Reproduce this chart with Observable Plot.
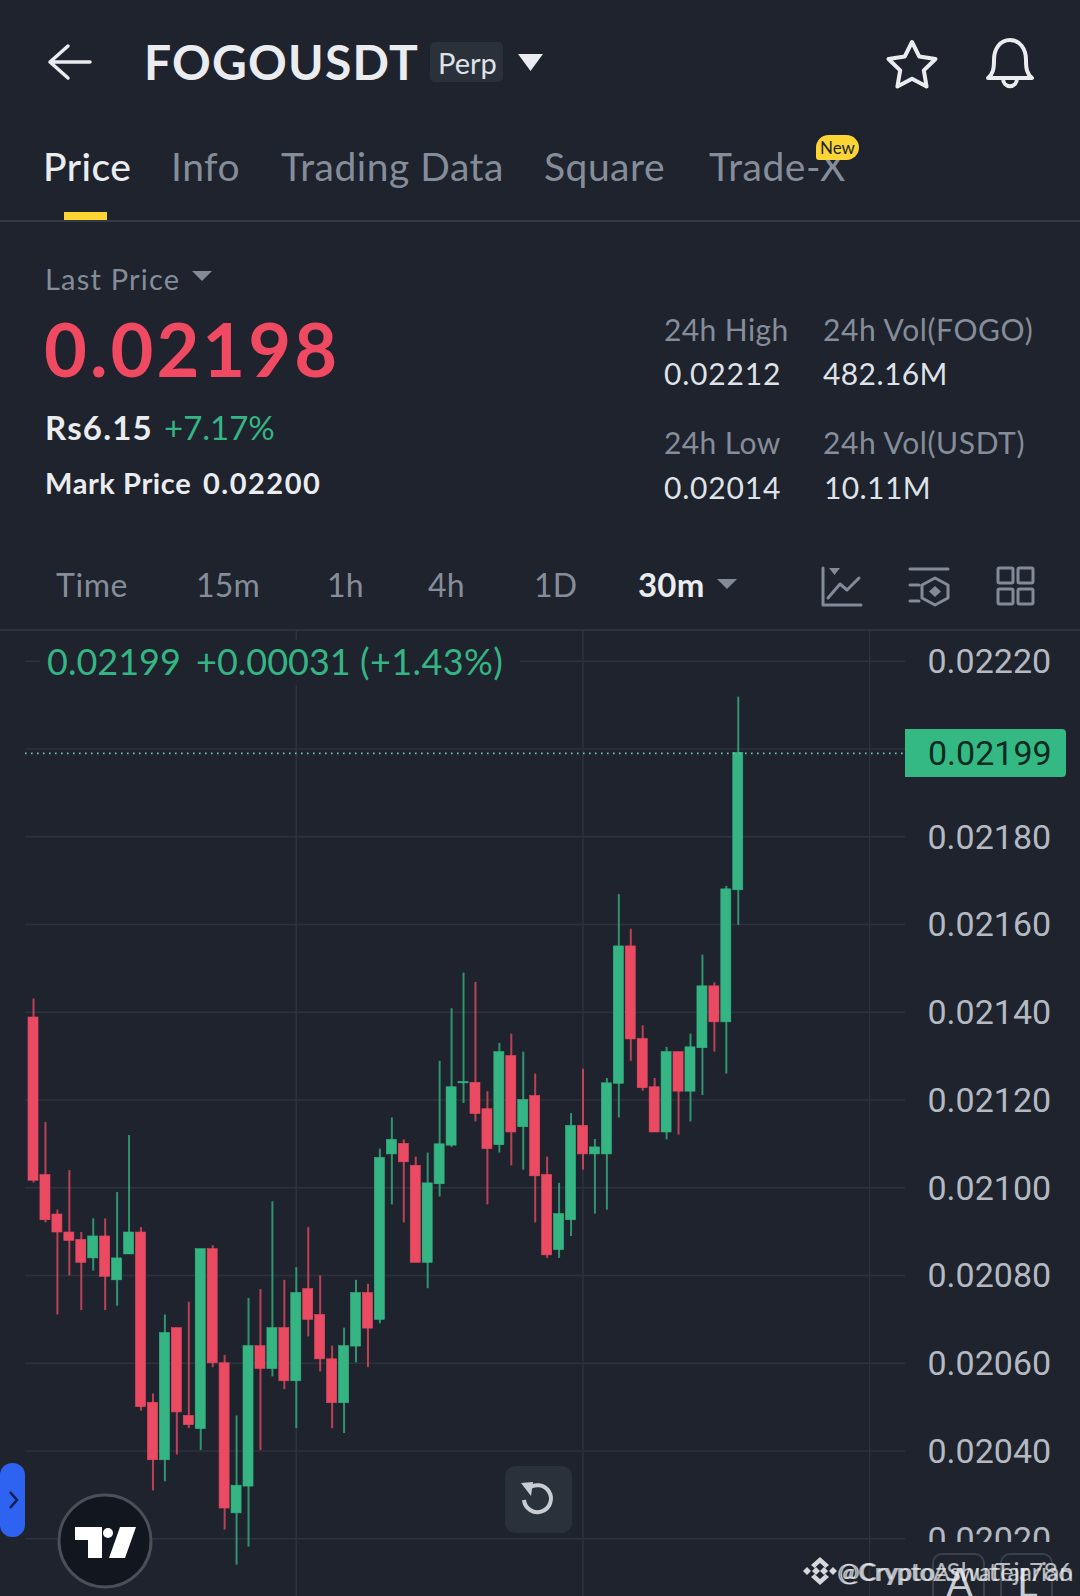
<!DOCTYPE html>
<html><head><meta charset="utf-8">
<script src="https://cdn.jsdelivr.net/npm/d3@7"></script>
<script src="https://cdn.jsdelivr.net/npm/@observablehq/plot@0.6"></script>
<style>
html,body{margin:0;padding:0;background:#1e232d;}
#page{position:relative;width:1080px;height:1596px;overflow:hidden;background:#1e232d;font-family:Lato,"Noto Sans",sans-serif;color:#eaecef;}
.t{position:absolute;white-space:nowrap;line-height:1;transform:translateY(-87%);}
.g{color:#868d9a}.hl{color:#dfe2e7}
.up{color:#34b583}
.tab{font-size:39px;letter-spacing:.5px}
.s{font-size:30px;letter-spacing:.4px}
.tf{font-size:32px;letter-spacing:.2px}
#chart{position:absolute;left:0;top:629px;}
svg.ic{position:absolute;overflow:visible}
.box{position:absolute}
</style></head><body>
<div id="page">
<svg class="ic" style="left:0;top:0" width="1080" height="630" fill="none" stroke="#eaecef" stroke-linecap="round" stroke-linejoin="round">
 <path d="M50 62H90M68 46L50 62L68 78" stroke-width="3.500"/>
 <path d="M912 42l7.3 14.600 16.200 2.400-11.700 11.400 2.800 16.100-14.600-7.700-14.600 7.700 2.800-16.100-11.700-11.400 16.200-2.400z" stroke-width="4"/>
 <path d="M988 78c5-4 6-9 6-18 0-11 6-20 16-20s16 9 16 20c0 9 1 14 6 18z" stroke-width="4"/>
 <path d="M1003 78c0 11 14 11 14 0" stroke-width="4"/>
 <g stroke="#848b98" stroke-width="3">
  <path d="M823 568V605H861M828 598L840 584L847 590L859 578"/>
  <path d="M910 569H948M910 585H919M910 601H919M935 578L948 585V598L935 605L922 598V585Z"/>
  <rect x="998" y="568" width="15" height="15" rx="1.500"/><rect x="1018" y="568" width="15" height="15" rx="1.500"/>
  <rect x="998" y="589" width="15" height="15" rx="1.500"/><rect x="1018" y="589" width="15" height="15" rx="1.500"/>
 </g>
 <g fill="#848b98" stroke="none">
  <path d="M829 568H840L834.500 575Z"/><path d="M935 586L941 591.500L935 597L929 591.500Z"/>
  <path d="M192 271H212L202 281Z"/><path d="M717 579H737L727 589Z"/>
 </g>
 <path d="M518 54H543L530.500 71Z" fill="#eaecef" stroke="none"/>
</svg>
<div class="t" style="left:144px;top:80px;font-size:48px;font-weight:700;letter-spacing:1.200px">FOGOUSDT</div>
<div class="box" style="left:430px;top:42px;width:73px;height:40px;background:#2b313b;border-radius:5px"></div>
<div class="t hl" style="left:438px;top:73px;font-size:29px;">Perp</div>

<div class="t tab" style="left:43px;top:181px;font-weight:500;">Price</div>
<div class="t g tab" style="left:171px;top:181px;">Info</div>
<div class="t g tab" style="left:281px;top:181px;">Trading Data</div>
<div class="t g tab" style="left:544px;top:181px;">Square</div>
<div class="t g tab" style="left:709px;top:181px;">Trade-X</div>
<div class="box" style="left:816px;top:135px;width:43px;height:25px;background:#fcd535;border-radius:13px 13px 13px 3px;color:#1e232d;font-size:17px;line-height:25px;text-align:center;">New</div>
<div class="box" style="left:64px;top:212px;width:43px;height:8px;background:#fcd535"></div>
<div class="box" style="left:0;top:220px;width:1080px;height:1.500px;background:#333945"></div>

<div class="t g" style="left:45px;top:289px;font-size:29px;letter-spacing:1.200px">Last Price</div>
<div class="t" style="left:44px;top:376px;font-size:74px;font-weight:700;color:#ef4a62;letter-spacing:3px">0.02198</div>
<div class="t" style="left:45px;top:440px;font-size:33px;font-weight:700;letter-spacing:1.200px">Rs6.15</div>
<div class="t up" style="left:164px;top:440px;font-size:33px;">+7.17%</div>
<div class="t" style="left:45px;top:493px;font-size:29px;font-weight:700;letter-spacing:.6px">Mark Price</div>
<div class="t" style="left:203px;top:493px;font-size:29px;font-weight:700;letter-spacing:1.500px">0.02200</div>
<div class="t g s" style="left:664px;top:340px;">24h High</div>
<div class="t hl s" style="left:664px;top:384px;letter-spacing:.8px">0.02212</div>
<div class="t g s" style="left:823px;top:340px;letter-spacing:.6px">24h Vol(FOGO)</div>
<div class="t hl s" style="left:823px;top:384px;">482.16M</div>
<div class="t g s" style="left:664px;top:453px;">24h Low</div>
<div class="t hl s" style="left:664px;top:498px;letter-spacing:.8px">0.02014</div>
<div class="t g s" style="left:823px;top:453px;letter-spacing:.6px">24h Vol(USDT)</div>
<div class="t hl s" style="left:824px;top:498px;">10.11M</div>

<div class="t g tf" style="left:56px;top:597px;letter-spacing:.6px">Time</div>
<div class="t g tf" style="left:196px;top:597px;">15m</div>
<div class="t g tf" style="left:327px;top:597px;">1h</div>
<div class="t g tf" style="left:428px;top:597px;">4h</div>
<div class="t g tf" style="left:534px;top:597px;">1D</div>
<div class="t tf" style="left:638px;top:597px;font-size:33px;font-weight:700;">30m</div>
<div class="box" style="left:0;top:629px;width:1080px;height:1.500px;background:#2c323c"></div>

<div id="chart"></div>

<div class="box" style="left:40px;top:640px;width:480px;height:45px;background:#1e232d"></div>
<div class="t up" style="left:47px;top:674px;font-size:36px;">0.02199</div>
<div class="t up" style="left:196px;top:674px;font-size:36px;">+0.00031</div>
<div class="t up" style="left:360px;top:674px;font-size:36px;letter-spacing:.4px">(+1.43%)</div>

<div class="box" style="left:905px;top:729px;width:161px;height:48px;background:#34b985;border-radius:0 4px 4px 0;"></div>
<div class="t" id="lastLabel" style="left:928px;top:766px;font-size:34px;color:#0c2a1f;font-family:Roboto,sans-serif">0.02199</div>

<div class="box" style="left:905px;top:1542px;width:175px;height:54px;background:#1e232d"></div>
<div class="box" style="left:932px;top:1553px;width:53px;height:60px;border:2px solid #3a404c;border-radius:10px;box-sizing:border-box;"></div>
<div class="box" style="left:1000px;top:1553px;width:53px;height:60px;border:2px solid #3a404c;border-radius:10px;box-sizing:border-box;"></div>
<div class="t" style="left:946px;top:1597px;font-size:40px;color:#c7cbd2;">A</div>
<div class="t" style="left:1017px;top:1597px;font-size:40px;color:#c7cbd2;">L</div>
<div class="t" style="left:837px;top:1581px;font-size:25px;color:#eaecef;opacity:.75;">@CryptoAshutTar786</div>
<div class="t" style="left:839px;top:1581px;font-size:25px;color:#eaecef;opacity:.75;">@CryptozSwatejarian</div>
<svg class="ic" style="left:803px;top:1557px" width="34" height="30" fill="#eaecef">
 <path d="M17 0l9 8-3.500 3L17 6l-5.500 5L8 8zM0 14l4-4 4 4-4 4zM9 14l4-4 4 4-4 4-4-4zM17 14l4-4 4 4-4 4zM26 14l4-4 4 4-4 4zM17 28l-9-8 3.500-3 5.500 5 5.500-5 3.500 3z" opacity=".9"/>
</svg>

<div class="box" style="left:0;top:1463px;width:25px;height:74px;background:#2e62f0;border-radius:12px"></div>
<svg class="ic" style="left:8px;top:1490px" width="12" height="20" fill="none" stroke="#10204e" stroke-width="2.500"><path d="M2 2L9 10L2 18"/></svg>

<svg class="ic" style="left:0;top:0" width="1080" height="1596">
 <circle cx="105" cy="1541" r="46" fill="#12161f" stroke="#4a4f5a" stroke-width="3"/>
 <path d="M75 1527H102V1558H88V1540H75Z M120 1527H136L125 1558H109Z" fill="#fff"/>
 <circle cx="108" cy="1533" r="5" fill="#fff"/>
 <rect x="505" y="1466" width="67" height="67" rx="10" fill="#2b313b"/>
 <path d="M528 1489 a13.500 13.500 0 1 1 -4 11" fill="none" stroke="#c9ccd2" stroke-width="4"/>
 <path d="M521 1483L533 1482L531 1496Z" fill="#c9ccd2"/>
</svg>
</div>
<script>
// Prices, one entry per 30m candle.
const opens = [0.021388,0.021029,0.020939,0.020898,0.020881,0.020839,0.020889,0.020789,0.020848,0.020898,0.020510,0.020379,0.020680,0.020480,0.020450,0.020860,0.020600,0.020258,0.020319,0.020639,0.020587,0.020680,0.020559,0.020769,0.020710,0.020609,0.020509,0.020638,0.020760,0.020699,0.021076,0.021100,0.021050,0.020829,0.021008,0.021096,0.021238,0.021239,0.021179,0.021097,0.021300,0.021138,0.021209,0.021029,0.020858,0.020926,0.021141,0.021076,0.021076,0.021237,0.021550,0.021339,0.021229,0.021126,0.021309,0.021219,0.021318,0.021459,0.021377,0.021678];
const closes = [0.021016,0.020926,0.020898,0.020879,0.020829,0.020889,0.020797,0.020839,0.020898,0.020500,0.020379,0.020669,0.020488,0.020459,0.020860,0.020600,0.020269,0.020321,0.020639,0.020587,0.020680,0.020559,0.020760,0.020699,0.020609,0.020509,0.020639,0.020760,0.020679,0.021068,0.021109,0.021058,0.020829,0.021010,0.021099,0.021229,0.021241,0.021168,0.021088,0.021309,0.021126,0.021200,0.021026,0.020846,0.020940,0.021141,0.021076,0.021092,0.021238,0.021550,0.021338,0.021227,0.021126,0.021309,0.021219,0.021320,0.021459,0.021377,0.021680,0.021991];
const highs = [0.021430,0.021149,0.020949,0.021039,0.020898,0.020929,0.020929,0.020989,0.021119,0.020909,0.020530,0.020710,0.020680,0.020739,0.020860,0.020868,0.020618,0.020480,0.020748,0.020768,0.020968,0.020789,0.020818,0.020909,0.020799,0.020639,0.020680,0.020789,0.020780,0.021088,0.021159,0.021109,0.021070,0.021079,0.021288,0.021408,0.021489,0.021468,0.021219,0.021329,0.021350,0.021309,0.021259,0.021070,0.021010,0.021169,0.021270,0.021110,0.021249,0.021668,0.021589,0.021369,0.021249,0.021320,0.021309,0.021350,0.021530,0.021467,0.021687,0.022118];
const lows = [0.021011,0.020920,0.020710,0.020799,0.020720,0.020810,0.020720,0.020730,0.020848,0.020491,0.020309,0.020330,0.020391,0.020451,0.020401,0.020590,0.020220,0.020140,0.020181,0.020401,0.020569,0.020540,0.020451,0.020660,0.020580,0.020451,0.020440,0.020601,0.020590,0.020690,0.020961,0.020920,0.020829,0.020770,0.020979,0.021092,0.021192,0.021150,0.020961,0.021079,0.021050,0.021040,0.020920,0.020839,0.020839,0.020889,0.021040,0.020940,0.020949,0.021159,0.021288,0.021220,0.021126,0.021109,0.021120,0.021150,0.021210,0.021309,0.021259,0.021598];
const priceTicks = [0.0222,0.0220,0.0218,0.0216,0.0214,0.0212,0.0210,0.0208,0.0206,0.0204,0.0202];
const timeGrid = [22,46,70];
const lastPrice = 0.02199;
const upColor = "#34b583", downColor = "#ea4a62";

const candles = opens.map((o,i)=>({i,o,c:closes[i],h:highs[i],l:lows[i]}));
const col = d => d.c >= d.o ? upColor : downColor;
const gridColor = "#2d323c";

const chart = Plot.plot({
  width:1080, height:967,
  marginLeft:25, marginRight:175, marginTop:0, marginBottom:0,
  style:{background:"transparent"},
  x:{domain:[-0.67,73.0], axis:null},
  y:{domain:[0.0202,0.0222], range:[909.3,31.7], axis:null},
  marks:[
    Plot.ruleY(priceTicks,{stroke:gridColor,strokeWidth:1.5}),
    Plot.ruleX(timeGrid,{stroke:gridColor,strokeWidth:1.5}),
    Plot.ruleX(candles,{x:"i",y1:"l",y2:"h",stroke:col,strokeWidth:2,strokeOpacity:.78}),
    Plot.rect(candles,{x1:d=>d.i-0.42,x2:d=>d.i+0.42,y1:d=>Math.min(d.o,d.c),y2:d=>Math.max(d.o,d.c),fill:col,stroke:col,strokeWidth:.6}),
    Plot.ruleY([lastPrice],{stroke:"#6cc5a6",strokeWidth:1.6,strokeDasharray:"1.6 4.4"}),
    Plot.axisY({anchor:"right",ticks:priceTicks,tickSize:0,tickPadding:22,dy:1,tickFormat:d=>d.toFixed(5),fontSize:34,fontFamily:"Roboto, sans-serif",fill:"#b4b9c2",label:null})
  ]
});
document.getElementById("chart").appendChild(chart);
</script>
</body></html>
